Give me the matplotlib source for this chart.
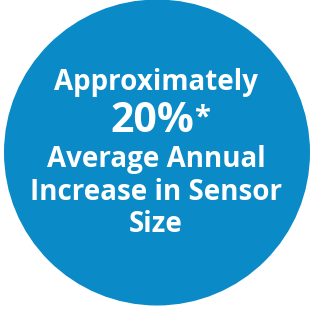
import matplotlib.pyplot as plt
from matplotlib.patches import Circle

# text content of the badge
headline = "Approximately"
figure_value = "20%"
footnote_mark = "*"
caption_lines = ["Average Annual", "Increase in Sensor", "Size"]

BLUE = "#0A8AC6"
FONT = "Open Sans"

W, H = 311, 309
fig = plt.figure(figsize=(W / 100, H / 100), dpi=100)
ax = fig.add_axes([0, 0, 1, 1])
ax.set_xlim(0, W)
ax.set_ylim(H, 0)
ax.axis("off")

ax.add_patch(Circle((157, 152.5), 153, color=BLUE, lw=0))

cx = 156
ax.text(cx, 90, headline, ha="center", va="baseline", color="white",
        fontsize=20, fontweight="bold", family=FONT)
ax.text(152, 132, figure_value, ha="center", va="baseline", color="white",
        fontsize=29.5, fontweight="bold", family=FONT)
ax.text(194, 103, footnote_mark, ha="left", va="top", color="white",
        fontsize=21, fontweight="bold", family=FONT)

baselines = [167, 199.5, 232]
for line, y in zip(caption_lines, baselines):
    ax.text(cx, y, line, ha="center", va="baseline", color="white",
            fontsize=20, fontweight="bold", family=FONT)

fig.savefig("out.png", dpi=100, facecolor="white")
